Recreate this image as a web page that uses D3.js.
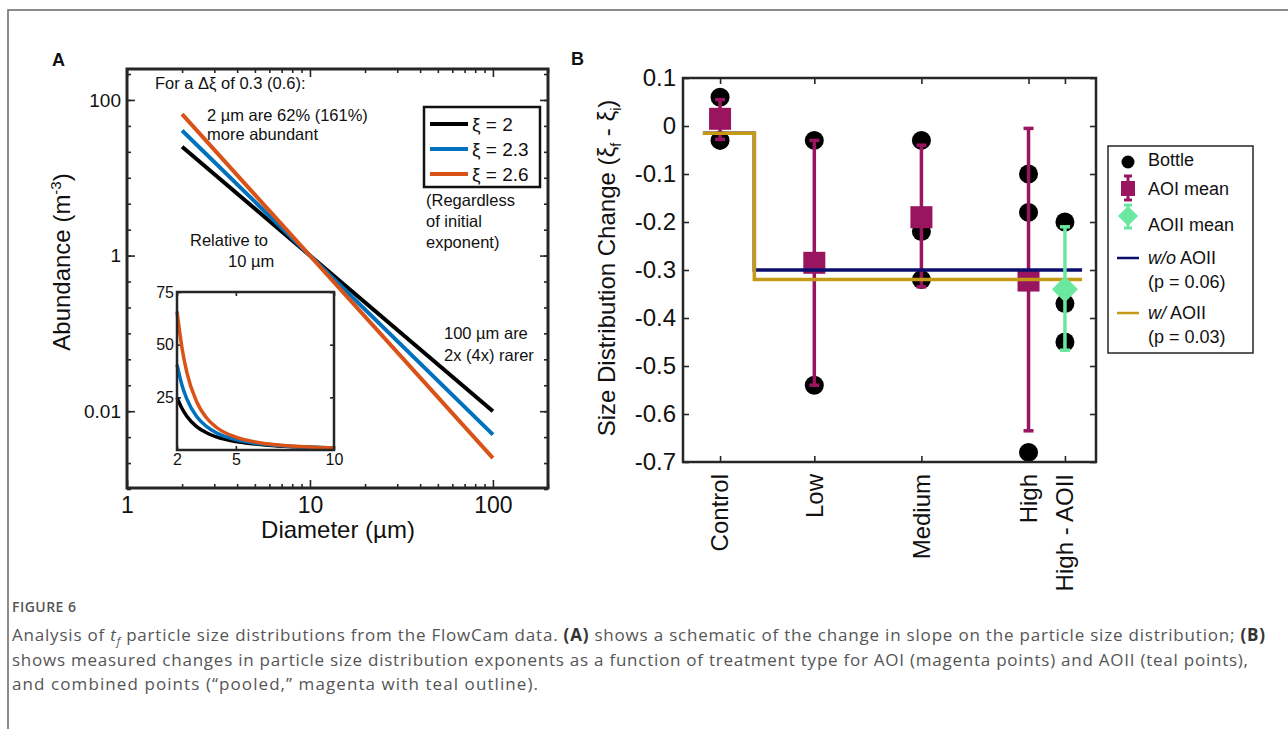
<!DOCTYPE html>
<html>
<head>
<meta charset="utf-8">
<script src="https://cdnjs.cloudflare.com/ajax/libs/d3/7.8.5/d3.min.js"></script>
<style>
body { margin: 0; background: #fff; }
svg text { font-family: "Liberation Sans", Arial, sans-serif; fill: #111; }
</style>
</head>
<body>
<script>
// ---- panel A data (schematic size spectra, all pass through 1 at 10 um)
var diamEnds = [2, 100];
var exponentNames = ["ξ = 2", "ξ = 2.3", "ξ = 2.6"];
var abundEnds = [[25, 0.01], [40.5, 0.005], [65.7, 0.0025]];
var insetDiam = [2, 2.25, 2.5, 3, 3.5, 4, 5, 6, 7, 8, 9, 10];
var insetAbund = [
  [25, 19.8, 16, 11.1, 8.2, 6.25, 4, 2.8, 2.0, 1.6, 1.2, 1],
  [40.5, 30.9, 24.3, 15.9, 11.2, 8.2, 4.9, 3.2, 2.3, 1.7, 1.3, 1],
  [65.7, 48.7, 36.8, 22.9, 15.3, 10.8, 6.1, 3.8, 2.5, 1.8, 1.3, 1]
];
var lineColors = ["#000000", "#0072BD", "#D95319"];
var xTicksA = [1, 10, 100];
var yTicksA = [0.01, 1, 100];
var insetXTicks = [2, 5, 10];
var insetYTicks = [25, 50, 75];

// ---- panel B data
var treatments = ["Control", "Low", "Medium", "High", "High - AOII"];
var treatX = [0, 0.88, 1.88, 2.88, 3.22];
var bottleVals = [[0.06, -0.03], [-0.03, -0.54], [-0.03, -0.22, -0.32], [-0.10, -0.18, -0.68], [-0.20, -0.37, -0.45]];
var aoiMean = [0.015, -0.285, -0.19, -0.322];
var aoiLow = [-0.028, -0.54, -0.335, -0.635];
var aoiHigh = [0.055, -0.03, -0.04, -0.005];
var aoiiMean = -0.34, aoiiLow = -0.467, aoiiHigh = -0.21;
var stepX = [-0.16, 0.32, 0.32, 3.38];
var woAOII = [-0.015, -0.015, -0.30, -0.30];
var wAOII = [-0.015, -0.015, -0.32, -0.32];
var yTicksB = [0.1, 0, -0.1, -0.2, -0.3, -0.4, -0.5, -0.6, -0.7];

var magenta = "#99155F", mint = "#6BE8A0", navy = "#0B0E6E", gold = "#C59A16";
var axCol = "#262626";

var svg = d3.select("body").append("svg").attr("width", 1288).attr("height", 729);

// outer frame
svg.append("path").attr("d", "M1288,10 H8 V729").attr("fill", "none")
  .attr("stroke", "#666").attr("stroke-width", 1.5);

function styleAxis(g) {
  g.select(".domain").remove();
  g.selectAll(".tick line").attr("stroke", axCol).attr("stroke-width", 1.6);
  g.selectAll(".tick text").attr("fill", "#111").attr("font-family", "Liberation Sans, Arial, sans-serif");
}

// ================= Panel A =================
var xA = d3.scaleLog().domain([1, 200]).range([127, 548]);
var yA = d3.scaleLog().domain([0.001, 250]).range([489, 69]);
var gA = svg.append("g");

var minorX = [2,3,4,5,6,7,8,9,20,30,40,50,60,70,80,90,200];
var minorY = d3.range(-9, 8).map(function(k){ return Math.pow(10, k / 3); });

gA.append("g").attr("transform", "translate(0,488)")
  .call(d3.axisBottom(xA).tickValues(minorX).tickFormat("").tickSize(-4)).call(styleAxis);
gA.append("g").attr("transform", "translate(0,488)")
  .call(d3.axisBottom(xA).tickValues(xTicksA).tickFormat(d3.format("d")).tickSize(-8).tickPadding(9))
  .call(styleAxis).selectAll("text").attr("font-size", 23);
gA.append("g").attr("transform", "translate(0,69)")
  .call(d3.axisTop(xA).tickValues(minorX).tickFormat("").tickSize(-4)).call(styleAxis);
gA.append("g").attr("transform", "translate(0,69)")
  .call(d3.axisTop(xA).tickValues(xTicksA).tickFormat("").tickSize(-8)).call(styleAxis);

gA.append("g").attr("transform", "translate(127,0)")
  .call(d3.axisLeft(yA).tickValues(minorY).tickFormat("").tickSize(-4)).call(styleAxis);
gA.append("g").attr("transform", "translate(127,0)")
  .call(d3.axisLeft(yA).tickValues(yTicksA).tickFormat(function(d){ return d < 1 ? d3.format(".2f")(d) : d3.format("d")(d); }).tickSize(-8).tickPadding(6))
  .call(styleAxis).selectAll("text").attr("font-size", 19);
gA.append("g").attr("transform", "translate(548,0)")
  .call(d3.axisRight(yA).tickValues(minorY).tickFormat("").tickSize(-4)).call(styleAxis);
gA.append("g").attr("transform", "translate(548,0)")
  .call(d3.axisRight(yA).tickValues(yTicksA).tickFormat("").tickSize(-8)).call(styleAxis);

var lineA = d3.line().x(function(d){ return xA(d[0]); }).y(function(d){ return yA(d[1]); });
abundEnds.forEach(function(vals, i) {
  gA.append("path").datum(diamEnds.map(function(d, j){ return [d, vals[j]]; }))
    .attr("d", lineA).attr("fill", "none").attr("stroke", lineColors[i]).attr("stroke-width", 4);
});

gA.append("rect").attr("x", 127).attr("y", 69).attr("width", 421).attr("height", 419)
  .attr("fill", "none").attr("stroke", axCol).attr("stroke-width", 3);

// legend A
var legA = gA.append("g");
legA.append("rect").attr("x", 424).attr("y", 107).attr("width", 116).attr("height", 80)
  .attr("fill", "#fff").attr("stroke", "#111").attr("stroke-width", 2.5);
exponentNames.forEach(function(n, i) {
  var yy = 124 + i * 25;
  legA.append("line").attr("x1", 430).attr("x2", 468).attr("y1", yy).attr("y2", yy)
    .attr("stroke", lineColors[i]).attr("stroke-width", 4);
  legA.append("text").attr("x", 472).attr("y", yy).attr("dy", "0.35em").attr("font-size", 19).text(n);
});

function addText(g, x, y, s, size) {
  return g.append("text").attr("x", x).attr("y", y).attr("dy", "0.35em").attr("font-size", size).text(s);
}
addText(gA, 155, 83, "For a Δξ of 0.3 (0.6):", 16.5);
addText(gA, 207, 115, "2 µm are 62% (161%)", 16.5);
addText(gA, 207, 134, "more abundant", 16.5);
addText(gA, 426, 200, "(Regardless", 16.5);
addText(gA, 426, 221, "of initial", 16.5);
addText(gA, 426, 242, "exponent)", 16.5);
addText(gA, 190, 240, "Relative to", 16.5);
addText(gA, 228, 261, "10 µm", 16.5);
addText(gA, 444, 333, "100 µm are", 16.5);
addText(gA, 444, 355, "2x (4x) rarer", 16.5);

gA.append("text").attr("x", 338).attr("y", 538).attr("text-anchor", "middle")
  .attr("font-size", 24).text("Diameter (µm)");
var yLabA = gA.append("text").attr("transform", "translate(70,262) rotate(-90)")
  .attr("text-anchor", "middle").attr("font-size", 24);
yLabA.append("tspan").text("Abundance (m");
yLabA.append("tspan").attr("dy", -9).attr("font-size", 15).text("-3");
yLabA.append("tspan").attr("dy", 9).text(")");

gA.append("text").attr("x", 52).attr("y", 66).attr("font-size", 18).attr("font-weight", "bold").text("A");

// inset
var xI = d3.scaleLinear().domain([2, 10]).range([177, 334]);
var yI = d3.scaleLinear().domain([0, 75]).range([450, 292]);
var gI = gA.append("g");
gI.append("rect").attr("x", 177).attr("y", 292).attr("width", 157).attr("height", 158).attr("fill", "#fff");
gI.append("g").attr("transform", "translate(0,450)")
  .call(d3.axisBottom(xI).tickValues(insetXTicks).tickSize(-4).tickPadding(4))
  .call(styleAxis).selectAll("text").attr("font-size", 16);
gI.append("g").attr("transform", "translate(0,292)")
  .call(d3.axisTop(xI).tickValues(insetXTicks).tickFormat("").tickSize(-4)).call(styleAxis);
gI.append("g").attr("transform", "translate(177,0)")
  .call(d3.axisLeft(yI).tickValues(insetYTicks).tickSize(-4).tickPadding(3))
  .call(styleAxis).selectAll("text").attr("font-size", 16);
gI.append("g").attr("transform", "translate(334,0)")
  .call(d3.axisRight(yI).tickValues(insetYTicks).tickFormat("").tickSize(-4)).call(styleAxis);
var lineI = d3.line().curve(d3.curveMonotoneX)
  .x(function(d){ return xI(d[0]); }).y(function(d){ return yI(d[1]); });
insetAbund.forEach(function(vals, i) {
  gI.append("path").datum(insetDiam.map(function(d, j){ return [d, vals[j]]; }))
    .attr("d", lineI).attr("fill", "none").attr("stroke", lineColors[i]).attr("stroke-width", 3.5);
});
gI.append("rect").attr("x", 177).attr("y", 292).attr("width", 157).attr("height", 158)
  .attr("fill", "none").attr("stroke", axCol).attr("stroke-width", 2.5);

// ================= Panel B =================
var xB = d3.scaleLinear().domain([-0.346, 3.51]).range([683, 1096]);
var yB = d3.scaleLinear().domain([-0.7, 0.1]).range([462, 78]);
var gB = svg.append("g");

gB.append("g").attr("transform", "translate(683,0)")
  .call(d3.axisLeft(yB).tickValues(yTicksB).tickFormat(function(d){ return d === 0 ? "0" : d.toFixed(1); }).tickSize(-6).tickPadding(7))
  .call(styleAxis).selectAll("text").attr("font-size", 24);
gB.append("g").attr("transform", "translate(1096,0)")
  .call(d3.axisRight(yB).tickValues(yTicksB).tickFormat("").tickSize(-6)).call(styleAxis);
gB.append("g").attr("transform", "translate(0,462)")
  .call(d3.axisBottom(xB).tickValues(treatX).tickFormat("").tickSize(-6)).call(styleAxis);
gB.append("g").attr("transform", "translate(0,78)")
  .call(d3.axisTop(xB).tickValues(treatX).tickFormat("").tickSize(-6)).call(styleAxis);

treatments.forEach(function(t, i) {
  gB.append("text").attr("transform", "translate(" + xB(treatX[i]) + ",474) rotate(-90)")
    .attr("text-anchor", "end").attr("dy", "0.35em").attr("font-size", 24).text(t);
});

// bottles
treatX.forEach(function(xv, i) {
  gB.selectAll(null).data(bottleVals[i]).enter().append("circle")
    .attr("cx", xB(xv)).attr("cy", function(d){ return yB(d); }).attr("r", 9.5).attr("fill", "#000");
});

// AOI mean with error bars
aoiMean.forEach(function(m, i) {
  var cx = xB(treatX[i]);
  gB.append("line").attr("x1", cx).attr("x2", cx).attr("y1", yB(aoiLow[i])).attr("y2", yB(aoiHigh[i]))
    .attr("stroke", magenta).attr("stroke-width", 3.5);
  [aoiLow[i], aoiHigh[i]].forEach(function(v) {
    gB.append("line").attr("x1", cx - 5).attr("x2", cx + 5).attr("y1", yB(v)).attr("y2", yB(v))
      .attr("stroke", magenta).attr("stroke-width", 3.5);
  });
  gB.append("rect").attr("x", cx - 11).attr("y", yB(m) - 11).attr("width", 22).attr("height", 22).attr("fill", magenta);
});

// step lines
var stepLine = d3.line().x(function(d){ return xB(d[0]); }).y(function(d){ return yB(d[1]); });
gB.append("path").datum(stepX.map(function(x, j){ return [x, woAOII[j]]; }))
  .attr("d", stepLine).attr("fill", "none").attr("stroke", navy).attr("stroke-width", 3.5);
gB.append("path").datum(stepX.map(function(x, j){ return [x, wAOII[j]]; }))
  .attr("d", stepLine).attr("fill", "none").attr("stroke", gold).attr("stroke-width", 3.5);

// AOII mean
var dx = xB(treatX[4]);
gB.append("line").attr("x1", dx).attr("x2", dx).attr("y1", yB(aoiiLow)).attr("y2", yB(aoiiHigh))
  .attr("stroke", mint).attr("stroke-width", 3.5);
[aoiiLow, aoiiHigh].forEach(function(v) {
  gB.append("line").attr("x1", dx - 5).attr("x2", dx + 5).attr("y1", yB(v)).attr("y2", yB(v))
    .attr("stroke", mint).attr("stroke-width", 3.5);
});
gB.append("path").attr("transform", "translate(" + dx + "," + yB(aoiiMean) + ")")
  .attr("d", "M0,-13 L13,0 L0,13 L-13,0 Z").attr("fill", mint);

gB.append("rect").attr("x", 683).attr("y", 78).attr("width", 413).attr("height", 384)
  .attr("fill", "none").attr("stroke", axCol).attr("stroke-width", 2.5);

// legend B
var legB = gB.append("g");
legB.append("rect").attr("x", 1108).attr("y", 146).attr("width", 145).attr("height", 207)
  .attr("fill", "#fff").attr("stroke", axCol).attr("stroke-width", 1.5);
legB.append("circle").attr("cx", 1128).attr("cy", 162).attr("r", 6.5).attr("fill", "#000");
addText(legB, 1148, 160, "Bottle", 18);
legB.append("line").attr("x1", 1128).attr("x2", 1128).attr("y1", 176).attr("y2", 200).attr("stroke", magenta).attr("stroke-width", 3);
legB.append("line").attr("x1", 1124).attr("x2", 1132).attr("y1", 176).attr("y2", 176).attr("stroke", magenta).attr("stroke-width", 3);
legB.append("line").attr("x1", 1124).attr("x2", 1132).attr("y1", 200).attr("y2", 200).attr("stroke", magenta).attr("stroke-width", 3);
legB.append("rect").attr("x", 1121).attr("y", 181).attr("width", 14).attr("height", 15).attr("fill", magenta);
addText(legB, 1148, 189, "AOI mean", 18);
legB.append("line").attr("x1", 1128).attr("x2", 1128).attr("y1", 205).attr("y2", 228).attr("stroke", mint).attr("stroke-width", 3);
legB.append("line").attr("x1", 1124).attr("x2", 1132).attr("y1", 205).attr("y2", 205).attr("stroke", mint).attr("stroke-width", 3);
legB.append("line").attr("x1", 1124).attr("x2", 1132).attr("y1", 228).attr("y2", 228).attr("stroke", mint).attr("stroke-width", 3);
legB.append("path").attr("d", "M1128,206 L1138,216 L1128,226 L1118,216 Z").attr("fill", mint);
addText(legB, 1148, 225, "AOII mean", 18);
legB.append("line").attr("x1", 1117).attr("x2", 1139).attr("y1", 258).attr("y2", 258).attr("stroke", navy).attr("stroke-width", 2.5);
var t1 = addText(legB, 1148, 258, "", 18);
t1.append("tspan").attr("font-style", "italic").text("w/o");
t1.append("tspan").text(" AOII");
addText(legB, 1148, 282, "(p = 0.06)", 18);
legB.append("line").attr("x1", 1117).attr("x2", 1139).attr("y1", 313).attr("y2", 313).attr("stroke", gold).attr("stroke-width", 2.5);
var t2 = addText(legB, 1148, 313, "", 18);
t2.append("tspan").attr("font-style", "italic").text("w/");
t2.append("tspan").text(" AOII");
addText(legB, 1148, 337, "(p = 0.03)", 18);

var yLabB = gB.append("text").attr("transform", "translate(615,268) rotate(-90)")
  .attr("text-anchor", "middle").attr("font-size", 24);
yLabB.append("tspan").text("Size Distribution Change (ξ");
yLabB.append("tspan").attr("dy", 6).attr("font-size", 14).text("f");
yLabB.append("tspan").attr("dy", -6).text(" - ξ");
yLabB.append("tspan").attr("dy", 6).attr("font-size", 14).text("i");
yLabB.append("tspan").attr("dy", -6).text(")");

gB.append("text").attr("x", 571).attr("y", 65).attr("font-size", 18).attr("font-weight", "bold").text("B");

// ================= caption =================
var cap = svg.append("g");
cap.append("text").attr("x", 12).attr("y", 612).attr("font-size", 14).attr("font-weight", 600)
  .attr("textLength", 64).attr("lengthAdjust", "spacing")
  .style("font-family", "Open Sans, sans-serif").style("fill", "#555").text("FIGURE 6");
var capLines = [
  [["Analysis of ", ""], ["t", "i"], ["f", "sub"], [" particle size distributions from the FlowCam data. ", "up"], ["(A)", "b"], [" shows a schematic of the change in slope on the particle size distribution; ", ""], ["(B)", "b"]],
  [["shows measured changes in particle size distribution exponents as a function of treatment type for AOI (magenta points) and AOII (teal points),", ""]],
  [["and combined points (“pooled,” magenta with teal outline).", ""]]
];
var capWidths = [1253, 1236, 526];
capLines.forEach(function(parts, i) {
  var t = cap.append("text").attr("x", 12).attr("y", 641 + i * 24.5).attr("font-size", 17)
    .attr("textLength", capWidths[i]).attr("lengthAdjust", "spacing")
    .style("font-family", "Open Sans, sans-serif").style("fill", "#555");
  parts.forEach(function(p) {
    var sp = t.append("tspan").text(p[0]);
    if (p[1] === "i") sp.attr("font-style", "italic");
    if (p[1] === "sub") sp.attr("font-style", "italic").attr("font-size", 11).attr("dy", 4);
    if (p[1] === "up") sp.attr("dy", -4);
    if (p[1] === "b") sp.attr("font-weight", 700).style("fill", "#333");
  });
});
</script>
</body>
</html>
